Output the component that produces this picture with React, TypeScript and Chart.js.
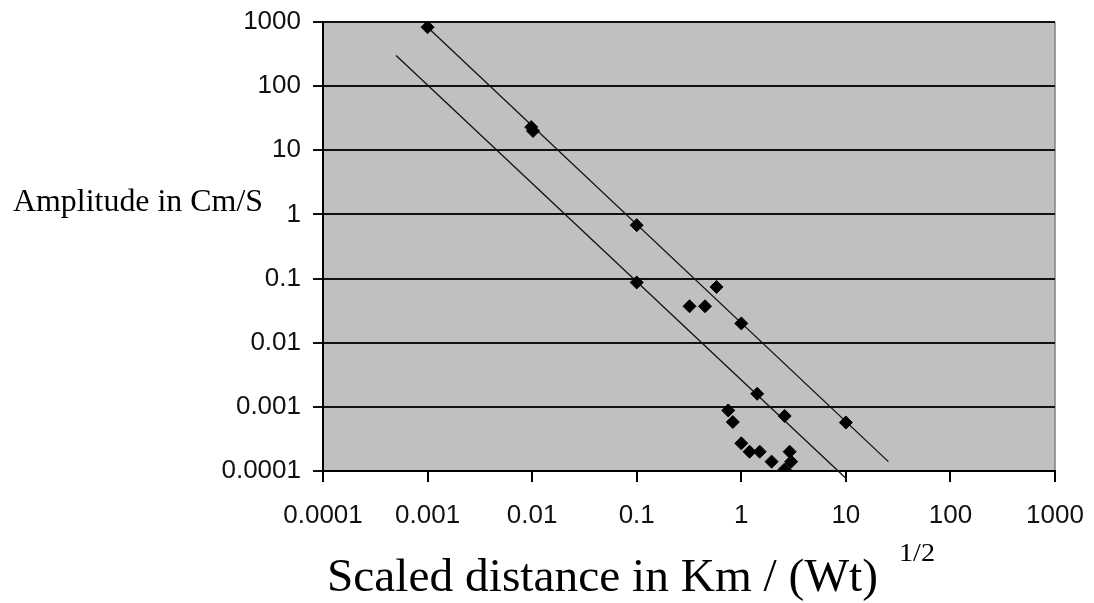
import React, { useEffect, useRef } from 'react';
import { Chart, registerables } from 'chart.js';

Chart.register(...registerables);

// Measured data (scaled distance vs amplitude)
const pointX = [0.001, 0.0098, 0.0102, 0.1, 0.1, 0.58, 0.32, 0.45, 1.0, 1.42, 2.6, 10, 0.75, 0.83, 1.0, 1.2, 1.5, 1.95, 2.9, 3.0, 2.6];
const pointY = [830, 23, 20, 0.68, 0.087, 0.074, 0.037, 0.037, 0.02, 0.0016, 0.00072, 0.00057, 0.00088, 0.00058, 0.00027, 0.0002, 0.0002, 0.00014, 0.0002, 0.00014, 0.000106];

// Two envelope lines
const upperLineX = [0.001, 25.5];
const upperLineY = [830, 0.00014];
const lowerLineX = [0.0005, 10];
const lowerLineY = [300, 0.000077];

const xTicks = [0.0001, 0.001, 0.01, 0.1, 1, 10, 100, 1000];
const xTickLabels = ['0.0001', '0.001', '0.01', '0.1', '1', '10', '100', '1000'];
const yTicks = [0.0001, 0.001, 0.01, 0.1, 1, 10, 100, 1000];
const yTickLabels = ['0.0001', '0.001', '0.01', '0.1', '1', '10', '100', '1000'];

const xTitle = 'Scaled distance in Km / (Wt)';
const xTitleSup = '1/2';
const yTitle = 'Amplitude in Cm/S';

function fitText(ctx: CanvasRenderingContext2D, text: string, x: number, y: number, width: number, font: string) {
  ctx.save();
  ctx.font = font;
  const w = ctx.measureText(text).width;
  ctx.translate(x, y);
  ctx.scale(width / w, 1);
  ctx.fillText(text, 0, 0);
  ctx.restore();
}

const decorPlugin = {
  id: 'decor',
  beforeDraw(chart: any) {
    const { ctx, chartArea, width, height } = chart;
    ctx.save();
    ctx.fillStyle = '#ffffff';
    ctx.fillRect(0, 0, width, height);
    ctx.fillStyle = '#c0c0c0';
    ctx.fillRect(chartArea.left, chartArea.top, chartArea.right - chartArea.left, chartArea.bottom - chartArea.top);
    ctx.strokeStyle = '#808080';
    ctx.lineWidth = 1.5;
    ctx.beginPath();
    ctx.moveTo(chartArea.right, chartArea.top);
    ctx.lineTo(chartArea.right, chartArea.bottom);
    ctx.stroke();
    ctx.restore();
  },
  afterDraw(chart: any) {
    const { ctx } = chart;
    ctx.save();
    ctx.fillStyle = '#000000';
    ctx.textBaseline = 'alphabetic';
    ctx.textAlign = 'left';
    fitText(ctx, yTitle, 13, 211, 250, '32px "Liberation Serif"');
    fitText(ctx, xTitle, 327, 591, 551, '46px "Liberation Serif"');
    fitText(ctx, xTitleSup, 899, 561, 36, '25px "Liberation Serif"');
    ctx.restore();
  },
};

export default function App() {
  const canvasRef = useRef<HTMLCanvasElement | null>(null);

  useEffect(() => {
    document.body.style.margin = '0';
    const canvas = canvasRef.current;
    if (!canvas) return;
    const chart = new Chart(canvas, {
      type: 'scatter',
      data: {
        datasets: [
          {
            label: 'data',
            data: pointX.map((x, i) => ({ x, y: pointY[i] })),
            pointStyle: 'rectRot',
            pointRadius: 6.5,
            backgroundColor: '#000000',
            borderColor: '#000000',
            borderWidth: 1,
            showLine: false,
          },
          {
            label: 'upper',
            data: upperLineX.map((x, i) => ({ x, y: upperLineY[i] })),
            showLine: true,
            pointRadius: 0,
            borderColor: '#111111',
            borderWidth: 1.3,
            clip: false as any,
          },
          {
            label: 'lower',
            data: lowerLineX.map((x, i) => ({ x, y: lowerLineY[i] })),
            showLine: true,
            pointRadius: 0,
            borderColor: '#111111',
            borderWidth: 1.3,
            clip: false as any,
          },
        ],
      },
      options: {
        responsive: false,
        animation: false,
        layout: { padding: { top: 22, right: 39, left: 0, bottom: 0 } },
        plugins: {
          legend: { display: false },
          tooltip: { enabled: false },
        },
        scales: {
          x: {
            type: 'logarithmic',
            min: 0.0001,
            max: 1000,
            afterBuildTicks: (axis: any) => {
              axis.ticks = xTicks.map((v) => ({ value: v }));
            },
            afterFit: (axis: any) => {
              axis.height = 132;
              axis.paddingLeft = 0;
              axis.paddingRight = 0;
            },
            ticks: {
              autoSkip: false,
              maxRotation: 0,
              color: '#111111',
              padding: 18,
              font: { family: '"Liberation Sans", Arial, sans-serif', size: 26 },
              callback: (_v: any, i: number) => xTickLabels[i],
            },
            grid: {
              drawOnChartArea: false,
              drawTicks: true,
              tickLength: 11,
              color: '#000000',
              lineWidth: 2,
            },
            border: { display: true, color: '#000000', width: 2 },
          },
          y: {
            type: 'logarithmic',
            min: 0.0001,
            max: 1000,
            afterBuildTicks: (axis: any) => {
              axis.ticks = yTicks.map((v) => ({ value: v }));
            },
            afterFit: (axis: any) => {
              axis.width = 323;
              axis.paddingTop = 0;
              axis.paddingBottom = 0;
            },
            ticks: {
              autoSkip: false,
              color: '#111111',
              padding: 12,
              font: { family: '"Liberation Sans", Arial, sans-serif', size: 26 },
              callback: (_v: any, i: number) => yTickLabels[i],
            },
            grid: {
              drawOnChartArea: true,
              drawTicks: true,
              tickLength: 10,
              color: '#111111',
              lineWidth: 2,
            },
            border: { display: true, color: '#000000', width: 2 },
          },
        },
      },
      plugins: [decorPlugin],
    });
    return () => {
      chart.destroy();
    };
  }, []);

  return (
    <div style={{ position: 'fixed', left: 0, top: 0, width: 1094, height: 603, background: '#fff' }}>
      <canvas ref={canvasRef} width={1094} height={603} style={{ display: 'block' }} />
    </div>
  );
}
